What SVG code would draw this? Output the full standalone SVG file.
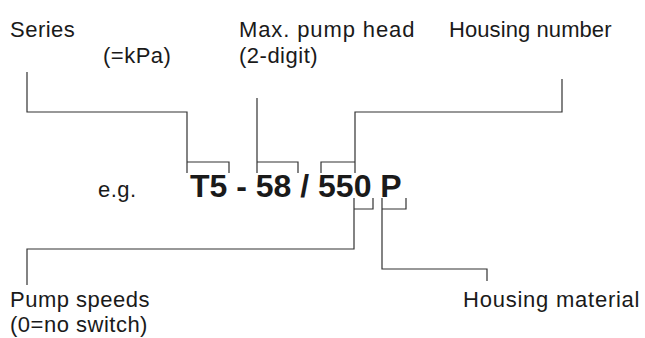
<svg xmlns="http://www.w3.org/2000/svg" width="645" height="338" viewBox="0 0 645 338">
<style>
.t{font-family:"Liberation Sans",Arial,sans-serif;font-size:22px;fill:#1a1a1a;letter-spacing:0.5px}
.b{font-family:"Liberation Sans",Arial,sans-serif;font-size:32px;font-weight:bold;fill:#1a1a1a}
.c{fill:none;stroke:#333;stroke-width:1.2}
</style>
<rect width="645" height="338" fill="#fff"/>
<g id="connectors">
<path class="c" d="M27,72 V112 H187 V173 M187,162 H229 V173"/>
<path class="c" d="M257,98 V173 M257,162 H298 V173"/>
<path class="c" d="M562,79 V112 H355 V173 M321,173 V162 H355"/>
<path class="c" d="M27,285 V249 H354 V198 M354,209 H373 V198"/>
<path class="c" d="M487,281 V269 H382 V198 M382,209 H406 V198"/>
</g>
<g id="series"><text class="t" x="10" y="36.5">Series</text><text class="t" x="103" y="63">(=kPa)</text></g>
<g id="maxhead"><text class="t" x="239" y="36.5" textLength="176" lengthAdjust="spacing">Max. pump head</text><text class="t" x="239" y="63">(2-digit)</text></g>
<g id="housingnumber"><text class="t" x="449" y="36.5" textLength="163" lengthAdjust="spacing">Housing number</text></g>
<g id="code"><text class="t" x="98" y="196.5">e.g.</text><text class="b" x="190" y="196.5">T5 - 58 / 550 P</text></g>
<g id="pumpspeeds"><text class="t" x="10" y="306.5">Pump speeds</text><text class="t" x="10" y="331.5">(0=no switch)</text></g>
<g id="housingmaterial"><text class="t" x="463" y="306.5" textLength="177" lengthAdjust="spacing">Housing material</text></g>
</svg>
